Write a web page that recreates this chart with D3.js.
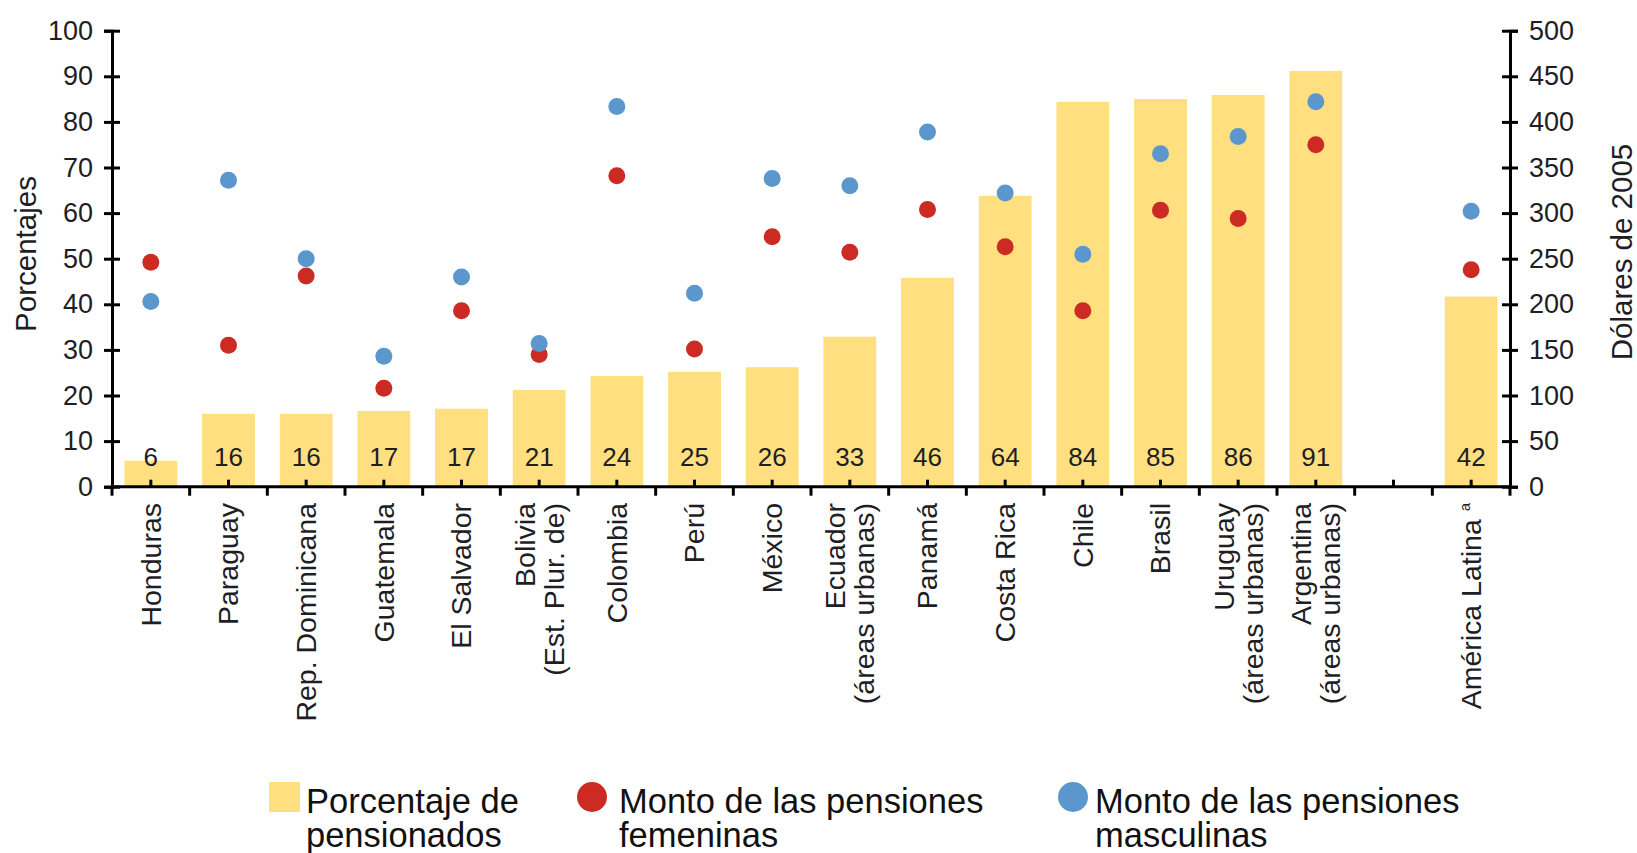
<!DOCTYPE html>
<html>
<head>
<meta charset="utf-8">
<script src="https://cdn.jsdelivr.net/npm/d3@7"></script>
<style>
  body { margin: 0; background: #fff; }
  svg text { font-family: "Liberation Sans", Arial, sans-serif; fill: #1e1e24; }
</style>
</head>
<body>
<svg id="chart" width="1637" height="853"></svg>
<script>
// categories (the empty one is the gap before the regional average)
let categories = [
  ["Honduras"], ["Paraguay"], ["Rep. Dominicana"], ["Guatemala"], ["El Salvador"],
  ["Bolivia", "(Est. Plur. de)"], ["Colombia"], ["Perú"], ["México"],
  ["Ecuador", "(áreas urbanas)"], ["Panamá"], ["Costa Rica"], ["Chile"], ["Brasil"],
  ["Uruguay", "(áreas urbanas)"], ["Argentina", "(áreas urbanas)"], [], ["América Latina"]
];

// porcentaje de pensionados (left axis)
let pensionados = [5.7, 16.0, 16.0, 16.6, 17.1, 21.2, 24.3, 25.2, 26.2, 32.9, 45.8, 63.8, 84.4, 85.0, 85.9, 91.2, null, 41.7];
// monto de las pensiones, dólares de 2005 (right axis)
let femeninas  = [246, 155, 231, 108, 193, 145, 341, 151, 274, 257, 304, 263, 193, 303, 294, 375, null, 238];
let masculinas = [203, 336, 250, 143, 230, 157, 417, 212, 338, 330, 389, 322, 255, 365, 384, 422, null, 302];

let leftTicks = d3.range(0, 101, 10),
    rightTicks = d3.range(0, 501, 50);

let colors = { bar: "#ffdf80", fem: "#cc2b24", masc: "#5b97cc" };

let svg = d3.select("#chart");
let keys = categories.map((c, i) => i);

let xScale = d3.scaleBand()
  .domain(keys)
  .range([112, 1510])
  .paddingInner(0.32)
  .paddingOuter(0.16);

let yLeft = d3.scaleLinear().domain([0, 100]).range([486.7, 30.7]);
let yRight = d3.scaleLinear().domain([0, 500]).range([486.7, 30.7]);

let cx = i => xScale(i) + xScale.bandwidth() / 2;

// bars
svg.append("g")
  .selectAll("rect")
  .data(keys.filter(i => pensionados[i] != null))
  .join("rect")
    .attr("x", i => xScale(i))
    .attr("width", xScale.bandwidth())
    .attr("y", i => yLeft(pensionados[i]))
    .attr("height", i => yLeft(0) - yLeft(pensionados[i]))
    .attr("fill", colors.bar);

// bar labels
svg.append("g")
  .selectAll("text")
  .data(keys.filter(i => pensionados[i] != null))
  .join("text")
    .attr("x", cx)
    .attr("y", yLeft(0) - 21)
    .attr("text-anchor", "middle")
    .style("font-size", "26px")
    .text(i => Math.round(pensionados[i]));

// left axis
let axisL = svg.append("g")
  .attr("transform", "translate(112,0)")
  .call(d3.axisLeft(yLeft).tickValues(leftTicks).tickSizeOuter(0).tickSize(8).tickPadding(11));

// right axis
let axisR = svg.append("g")
  .attr("transform", "translate(1510,0)")
  .call(d3.axisRight(yRight).tickValues(rightTicks).tickSizeOuter(0).tickSize(8).tickPadding(11));

[axisL, axisR].forEach(g => {
  g.select(".domain").attr("stroke", "#000").attr("stroke-width", 3);
  g.selectAll(".tick line").attr("x1", -8).attr("x2", 8).attr("stroke", "#000").attr("stroke-width", 3);
  g.selectAll(".tick text")
    .style("font-size", "27px")
    .attr("font-family", null)
    .style("fill", "#1e1e24");
});
axisL.selectAll(".tick text").attr("x", -19);
axisR.selectAll(".tick text").attr("x", 19);

// bottom axis: small ticks at centres (up), boundary ticks (down)
let axisB = svg.append("g")
  .attr("transform", `translate(0,${yLeft(0)})`)
  .call(d3.axisBottom(xScale).tickSizeInner(-7).tickSizeOuter(0).tickFormat(""));
axisB.select(".domain").attr("d", "M112,0H1510").attr("stroke", "#000").attr("stroke-width", 3);
axisB.selectAll(".tick line").attr("stroke", "#000").attr("stroke-width", 3);

let step = xScale.step();
axisB.selectAll("line.bound")
  .data(d3.range(categories.length + 1))
  .join("line")
    .attr("class", "bound")
    .attr("x1", k => 112 + k * step)
    .attr("x2", k => 112 + k * step)
    .attr("y1", 0)
    .attr("y2", 9)
    .attr("stroke", "#000")
    .attr("stroke-width", 3);

// category labels
let lineGap = 29;
keys.forEach(i => {
  let lines = categories[i];
  lines.forEach((line, j) => {
    let off = (j - (lines.length - 1) / 2) * lineGap;
    let t = svg.append("text")
      .attr("transform", `translate(${cx(i) + off},503) rotate(-90)`)
      .attr("text-anchor", "end")
      .attr("dy", "0.35em")
      .style("font-size", "28.5px")
      .text(line);
    if (line === "América Latina") {
      t.append("tspan").text(" ");
      t.append("tspan").attr("dy", -11).style("font-size", "15px").text("a");
    }
  });
});

// dots: female first, male drawn on top
svg.append("g")
  .selectAll("circle")
  .data(keys.filter(i => femeninas[i] != null))
  .join("circle")
    .attr("cx", cx)
    .attr("cy", i => yRight(femeninas[i]))
    .attr("r", 8.5)
    .attr("fill", colors.fem);

svg.append("g")
  .selectAll("circle")
  .data(keys.filter(i => masculinas[i] != null))
  .join("circle")
    .attr("cx", cx)
    .attr("cy", i => yRight(masculinas[i]))
    .attr("r", 8.5)
    .attr("fill", colors.masc);

// axis titles
svg.append("text")
  .attr("transform", "translate(36,254) rotate(-90)")
  .attr("text-anchor", "middle")
  .style("font-size", "29.5px")
  .text("Porcentajes");

svg.append("text")
  .attr("transform", "translate(1632,252) rotate(-90)")
  .attr("text-anchor", "middle")
  .style("font-size", "29.5px")
  .text("Dólares de 2005");

// legend
let legend = [
  { kind: "rect", color: colors.bar, x: 269, tx: 37, text: ["Porcentaje de", "pensionados"] },
  { kind: "circle", color: colors.fem, x: 577, tx: 42, text: ["Monto de las pensiones", "femeninas"] },
  { kind: "circle", color: colors.masc, x: 1058, tx: 37, text: ["Monto de las pensiones", "masculinas"] }
];

legend.forEach(d => {
  let g = svg.append("g").attr("transform", `translate(${d.x},782)`);
  if (d.kind === "rect") {
    g.append("rect").attr("width", 31).attr("height", 30).attr("fill", d.color);
  } else {
    g.append("circle").attr("cx", 15).attr("cy", 15).attr("r", 15).attr("fill", d.color);
  }
  let t = g.append("text")
    .attr("y", 31)
    .style("font-size", "34.5px")
    .style("fill", "#111");
  d.text.forEach((s, j) => {
    t.append("tspan")
      .attr("x", d.tx)
      .attr("dy", j === 0 ? 0 : 34)
      .text(s);
  });
});
</script>
</body>
</html>
